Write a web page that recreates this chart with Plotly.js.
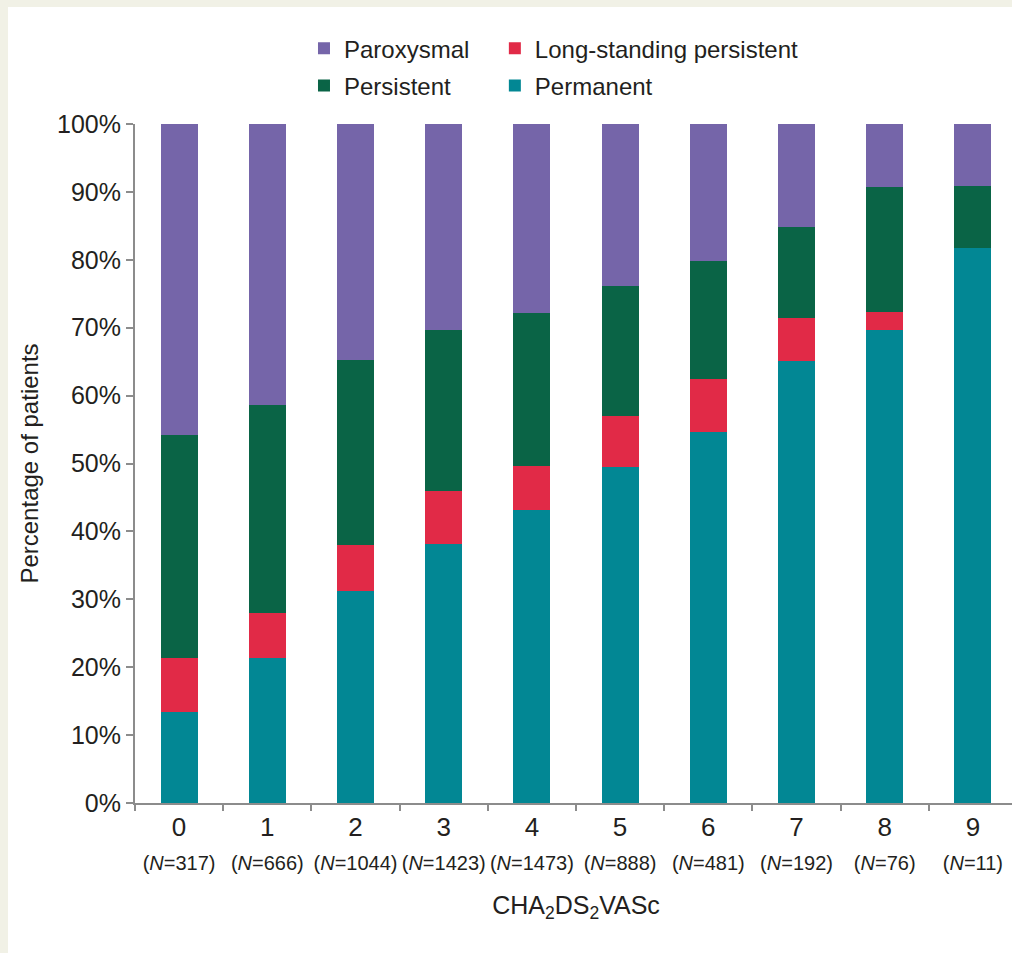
<!DOCTYPE html>
<html>
<head>
<meta charset="utf-8">
<script src="https://cdn.plot.ly/plotly-3.0.1.min.js"></script>
<style>
  html, body { margin:0; padding:0; background:#f1f1e6; overflow:hidden; width:1012px; height:953px; }
  #chart { position:absolute; left:8px; top:7px; width:1022px; height:946px; background:#fff; }
</style>
</head>
<body>
<div id="chart"></div>
<script>
const scores = ["0","1","2","3","4","5","6","7","8","9"];
const patientsN = [317, 666, 1044, 1423, 1473, 888, 481, 192, 76, 11];
const permanent = [13.4, 21.3, 31.2, 38.2, 43.1, 49.5, 54.6, 65.1, 69.7, 81.8];
const longStanding = [8.0, 6.7, 6.8, 7.8, 6.5, 7.5, 7.8, 6.3, 2.6, 0];
const persistent = [32.8, 30.6, 27.3, 23.7, 22.5, 19.2, 17.4, 13.4, 18.4, 9.1];
const paroxysmal = [45.8, 41.4, 34.7, 30.3, 27.9, 23.8, 20.2, 15.2, 9.3, 9.1];
const yTicks = [0,10,20,30,40,50,60,70,80,90,100];

const tickText = scores.map((s,i) =>
  s + "<br><span style='font-size:20px'>(<i>N</i>=" + patientsN[i] + ")</span>");

const colors = {
  paroxysmal: "#7565a9",
  persistent: "#0a6446",
  longStanding: "#e12a47",
  permanent: "#028794"
};

function bar(name, y, color, legend, group, rank) {
  return {
    type: "bar", name: name, x: scores, y: y,
    width: 0.42,
    marker: { color: color, line: { width: 0 } },
    legend: legend, legendgroup: group, legendrank: rank,
    hoverinfo: "name+y"
  };
}

const data = [
  bar("Permanent", permanent, colors.permanent, "legend2", "g1", 2),
  bar("Long-standing persistent", longStanding, colors.longStanding, "legend2", "g2", 1),
  bar("Persistent", persistent, colors.persistent, "legend", "g3", 2),
  bar("Paroxysmal", paroxysmal, colors.paroxysmal, "legend", "g4", 1)
];

const axisColor = "#8c8c8c";
const textColor = "#231f20";

const legendCommon = {
  orientation: "v",
  traceorder: "grouped",
  tracegroupgap: 3,
  bgcolor: "rgba(0,0,0,0)",
  font: { family: "Liberation Sans, Arial, sans-serif", size: 24, color: textColor },
  xanchor: "left", yanchor: "top", y: 1.144
};

const layout = {
  width: 1022, height: 946,
  margin: { l: 127, r: 13, t: 117, b: 150 },
  paper_bgcolor: "#ffffff",
  plot_bgcolor: "#ffffff",
  barmode: "stack",
  font: { family: "Liberation Sans, Arial, sans-serif", color: textColor },
  showlegend: true,
  legend: Object.assign({}, legendCommon, { x: 0.1916 }),
  legend2: Object.assign({}, legendCommon, { x: 0.408 }),
  xaxis: {
    type: "category",
    tickmode: "array",
    tickvals: scores,
    ticktext: tickText,
    tickson: "boundaries",
    tickangle: 0,
    ticks: "outside", ticklen: 6, tickwidth: 2, tickcolor: axisColor,
    showline: true, linecolor: axisColor, linewidth: 2,
    showgrid: false, zeroline: false,
    tickfont: { size: 26, color: textColor },
    title: { text: "CHA<sub>2</sub>DS<sub>2</sub>VASc", font: { size: 25, color: textColor }, standoff: 23 },
    range: [-0.5, 9.5]
  },
  yaxis: {
    range: [0, 100],
    tickmode: "array",
    tickvals: yTicks,
    ticktext: yTicks.map(v => v + "%"),
    ticks: "outside", ticklen: 7, tickwidth: 2, tickcolor: axisColor,
    showline: true, linecolor: axisColor, linewidth: 2,
    showgrid: false, zeroline: false,
    tickfont: { size: 25, color: textColor },
    title: { text: "Percentage of patients", font: { size: 24, color: textColor }, standoff: 12 }
  }
};

Plotly.newPlot("chart", data, layout, { displayModeBar: false, staticPlot: true });
</script>
</body>
</html>
